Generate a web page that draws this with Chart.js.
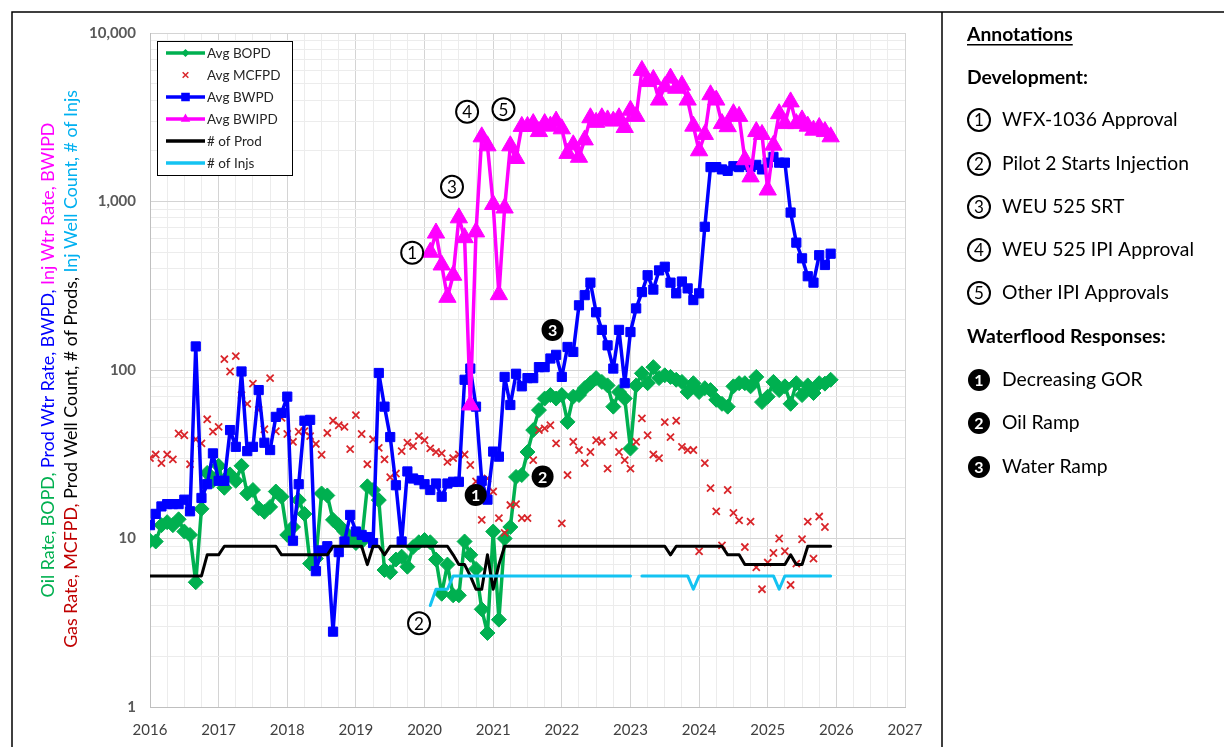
<!DOCTYPE html>
<html>
<head>
<meta charset="utf-8">
<script src="https://cdn.jsdelivr.net/npm/chart.js@4.4.1/dist/chart.umd.min.js"></script>
<style>
html, body { margin: 0; padding: 0; background: #fff; }
#wrap { width: 1224px; height: 747px; position: relative; }
</style>
</head>
<body>
<div id="wrap"><canvas id="myChart" width="1224" height="747"></canvas></div>
<script>
// monthly values, Jan 2016 .. Dec 2025
const bopd = [
  9.7, 9.6, 12, 12.5, 12, 13, 11, 10.5, 5.5, 15,
  24.5, 22, 27, 20, 24, 22, 27, 18.5, 19.4, 15.1,
  14.4, 15.4, 19, 17.7, 10.5, 11.7, 16.9, 14, 7.1, 7.6,
  18.5, 18, 12.9, 12, 11, 10, 9.4, 9.6, 20.4, 19.4,
  16.9, 6.5, 6.3, 7.5, 7.8, 6.8, 8.9, 9.5, 9.8, 9.5,
  7.5, 4.7, 7.0, 4.6, 4.6, 9.6, 8.0, 6.6, 3.8, 2.75,
  11, 3.3, 10, 11.7, 23.2, 23.8, 32.6, 44, 57.8, 67.7,
  71, 67.7, 71, 49.2, 69.5, 71, 78, 83.5, 89.5, 85,
  81, 60.6, 74, 67.7, 34.2, 81, 95.5, 83.5, 104, 89.5,
  93, 91, 87.5, 85, 74, 83.5, 74, 78, 76, 66.5,
  63, 60.6, 80, 83.5, 83.5, 80, 91, 64.5, 69.5, 85,
  76, 80, 63, 83.5, 71, 81, 73, 83.5, 83, 87.5
];
const mcfpd = [
  30, 31.5, 28, 31.5, 29.5, 42, 41, 27.6, 38.8, 36.7,
  51, 43.1, 46, 116, 98, 121, 71, 63, 83, 58,
  44.5, 89.5, 43.3, 52, 41.7, 37.5, 43, 43.3, 40.5, 36.4,
  31.4, 42.3, 50, 47, 46, 33.9, 54, 41.7, 27.6, 38.8,
  34.5, 29.5, 23.1, 24.3, 33, 37, 35.3, 40.5, 38.3, 34.3,
  32.6, 32, 28.5, 30, 31.5, 31.5, 27.3, 21.8, 12.9, 22.7,
  19, 13.2, 10.8, 15.8, 16, 13.2, 13.2, 29.2, 44, 45,
  47, 36.7, 12.3, 23.8, 37.5, 33.5, 28, 32.6, 38.3, 37.5,
  26, 41, 32.6, 29.2, 26, 37.5, 51.6, 41, 31.5, 30,
  49, 40, 50, 35, 33.5, 33.5, 8.4, 28, 19.9, 14.5,
  9.1, 19.4, 14.2, 12.8, 8.9, 12.6, 6.75, 5.0, 7.2, 8.2,
  10, 8.4, 5.3, 7.1, 9.9, 12.6, 7.6, 13.5, 11.7, null
];
const bwpd = [
  12, 14, 15.5, 16, 16, 16, 17, 14.5, 138, 17.4,
  21, 32, 22, 22, 44, 35, 98, 33, 35, 76,
  37, 33.5, 52.7, 55.6, 69.5, 9.7, 21, 50, 50.6, 6.4,
  8.5, 9, 2.8, 8.3, 9.6, 13.8, 11, 10.5, 10.2, 9.4,
  96, 60.6, 40, 20.7, 9.6, 25, 22.7, 22.2, 21, 19.4,
  21.2, 17.7, 21.2, 21.7, 21.7, 87.5, 102, 60.6, 22, 17,
  32.8, 30.6, 91, 62, 95, 80, 89.5, 89.5, 104, 104,
  117, 123, 91, 137, 128, 242, 278, 330, 220, 173,
  140, 102, 173, 83.5, 168, 232, 290, 365, 300, 390,
  410, 330, 285, 335, 305, 260, 285, 708, 1600, 1600,
  1550, 1520, 1620, 1600, 1650, 1600, 1650, 1550, 1700, 1840,
  1700, 1700, 860, 570, 460, 360, 330, 480, 420, 490
];
const bwipd = [
  null, null, null, null, null, null, null, null, null, null,
  null, null, null, null, null, null, null, null, null, null,
  null, null, null, null, null, null, null, null, null, null,
  null, null, null, null, null, null, null, null, null, null,
  null, null, null, null, null, null, null, null, null, 500,
  650, 420, 270, 365, 800, 610, 62, 660, 2420, 2140,
  960, 280, 915, 2140, 1800, 2790, 2790, 2900, 2600, 2900,
  2800, 3000, 2700, 1930, 2170, 1830, 2320, 3140, 2950, 3140,
  3050, 3000, 3140, 2750, 3480, 3200, 6000, 5150, 5300, 4000,
  4800, 5400, 4700, 4900, 4000, 2800, 2000, 2500, 4300, 4000,
  2900, 2780, 3320, 3200, 1770, 1400, 2600, 2500, 1170, 2160,
  3320, 2900, 3900, 2900, 3050, 2800, 2650, 2750, 2600, 2420
];
const prodCount = [
  6, 6, 6, 6, 6, 6, 6, 6, 6, 6,
  8, 8, 8, 9, 9, 9, 9, 9, 9, 9,
  9, 9, 9, 8, 8, 8, 8, 8, 8, 8,
  8, 8, 9, 9, 9, 9, 9, 9, 7, 9,
  9, 8, 9, 9, 9, 9, 9, 9, 9, 9,
  9, 9, 9, 8, 7, 7, 6, 5, 5, 8,
  5, 7, 9, 9, 9, 9, 9, 9, 9, 9,
  9, 9, 9, 9, 9, 9, 9, 9, 9, 9,
  9, 9, 9, 9, 9, 9, 9, 9, 9, 9,
  9, 8, 9, 9, 9, 9, 9, 9, 9, 9,
  9, 8, 8, 8, 7, 7, 7, 7, 7, 7,
  7, 7, 8, 7, 7, 9, 9, 9, 9, 9
];
const injCount = [
  null, null, null, null, null, null, null, null, null, null,
  null, null, null, null, null, null, null, null, null, null,
  null, null, null, null, null, null, null, null, null, null,
  null, null, null, null, null, null, null, null, null, null,
  null, null, null, null, null, null, null, null, null, 4,
  5, 5, 5, 6, 6, 6, 6, 6, 6, 6,
  6, 6, 6, 6, 6, 6, 6, 6, 6, 6,
  6, 6, 6, 6, 6, 6, 6, 6, 6, 6,
  6, 6, 6, 6, 6, null, 6, 6, 6, 6,
  6, 6, 6, 6, 6, 5, 6, 6, 6, 6,
  6, 6, 6, 6, 6, 6, 6, 6, 6, 6,
  5, 6, 6, 6, 6, 6, 6, 6, 6, 6
];

const xYears = [2016, 2017, 2018, 2019, 2020, 2021, 2022, 2023, 2024, 2025, 2026, 2027];
const yTickValues = [1, 10, 100, 1000, 10000];
const yTickLabels = ['1', '10', '100', '1,000', '10,000'];

// circled markers placed on the plot (year, value)
const devMarks = [
  { n: '1', x: 2019.82, y: 497 },
  { n: '2', x: 2019.92, y: 3.14 },
  { n: '3', x: 2020.40, y: 1224 },
  { n: '4', x: 2020.62, y: 3410 },
  { n: '5', x: 2021.15, y: 3525 }
];
const respMarks = [
  { n: '1', x: 2020.745, y: 18.1 },
  { n: '2', x: 2021.72, y: 23.3 },
  { n: '3', x: 2021.865, y: 173 }
];
const devItems = ['WFX-1036 Approval', 'Pilot 2 Starts Injection', 'WEU 525 SRT', 'WEU 525 IPI Approval', 'Other IPI Approvals'];
const respItems = ['Decreasing GOR', 'Oil Ramp', 'Water Ramp'];

const FONT = 'Lato, "Open Sans", sans-serif';
const GREEN = '#00b050', RED = '#d9252a', BLUE = '#0000ff', PINK = '#ff00ff', BLACK = '#000000', CYAN = '#14c3f2';

const pts = arr => arr.map((v, i) => ({ x: 2016 + i / 12, y: v }));

const quarterTicks = [];
for (let q = 2016 * 4; q <= 2027 * 4; q++) quarterTicks.push(q / 4);
const logGrid = [];
for (let e = 0; e < 4; e++) for (let s = 1; s < 10; s++) logGrid.push(s * Math.pow(10, e));
logGrid.push(10000);

function circle(ctx, x, y, r, n, filled, fs) {
  ctx.save();
  ctx.beginPath();
  ctx.arc(x, y, r, 0, Math.PI * 2);
  if (filled) {
    ctx.fillStyle = '#000';
    ctx.fill();
    ctx.fillStyle = '#fff';
    ctx.font = `bold ${fs}px ${FONT}`;
  } else {
    ctx.fillStyle = '#fff';
    ctx.fill();
    ctx.lineWidth = 2;
    ctx.strokeStyle = '#000';
    ctx.stroke();
    ctx.fillStyle = '#000';
    ctx.font = `${fs}px ${FONT}`;
  }
  ctx.textAlign = 'center';
  ctx.textBaseline = 'middle';
  ctx.fillText(n, x, y + 1);
  ctx.restore();
}

const legendItems = [
  { text: 'Avg BOPD', color: GREEN, line: true, style: 'rectRot', r: 3 },
  { text: 'Avg MCFPD', color: RED, line: false, style: 'crossRot', r: 4 },
  { text: 'Avg BWPD', color: BLUE, line: true, style: 'rect', r: 5 },
  { text: 'Avg BWIPD', color: PINK, line: true, style: 'triangle', r: 4 },
  { text: '# of Prod', color: BLACK, line: true, style: null },
  { text: '# of Injs', color: CYAN, line: true, style: null }
];

const titleLine1 = [['Oil Rate, BOPD, ', '#00b050'], ['Prod Wtr Rate, BWPD, ', '#0000ff'], ['Inj Wtr Rate, BWIPD', '#ff00ff']];
const titleLine2 = [['Gas Rate, MCFPD, ', '#c00000'], ['Prod Well Count, # of Prods, ', '#000000'], ['Inj Well Count, # of Injs', '#00b0f0']];

const deco = {
  id: 'deco',
  beforeDraw(chart) {
    const ctx = chart.ctx;
    ctx.save();
    ctx.fillStyle = '#fff';
    ctx.fillRect(0, 0, chart.width, chart.height);
    ctx.restore();
  },
  afterDatasetsDraw(chart) {
    const ctx = chart.ctx;
    const sx = chart.scales.x, sy = chart.scales.y;
    devMarks.forEach(m => circle(ctx, sx.getPixelForValue(m.x), sy.getPixelForValue(m.y), 11, m.n, false, 17));
    respMarks.forEach(m => circle(ctx, sx.getPixelForValue(m.x), sy.getPixelForValue(m.y), 11, m.n, true, 16));
  },
  afterDraw(chart) {
    const ctx = chart.ctx;
    ctx.save();

    // frame
    ctx.strokeStyle = '#000';
    ctx.lineWidth = 1.5;
    ctx.beginPath();
    ctx.moveTo(12, 747); ctx.lineTo(12, 12); ctx.lineTo(1224, 12);
    ctx.moveTo(942, 12); ctx.lineTo(942, 747);
    ctx.stroke();

    // legend box
    const lx = 157, ly = 41, lw = 135, lh = 134;
    ctx.fillStyle = '#fff';
    ctx.fillRect(lx, ly, lw, lh);
    ctx.lineWidth = 1;
    ctx.strokeStyle = '#000';
    ctx.strokeRect(lx + 0.5, ly + 0.5, lw, lh);
    ctx.font = `13.5px ${FONT}`;
    ctx.textBaseline = 'middle';
    ctx.textAlign = 'left';
    legendItems.forEach((it, i) => {
      const y = 53 + i * 22;
      if (it.line) {
        ctx.strokeStyle = it.color;
        ctx.lineWidth = 3.5;
        ctx.beginPath();
        ctx.moveTo(166, y); ctx.lineTo(205, y);
        ctx.stroke();
      }
      if (it.style) {
        ctx.fillStyle = it.color;
        ctx.strokeStyle = it.color;
        ctx.lineWidth = 1.5;
        Chart.helpers.drawPoint(ctx, { pointStyle: it.style, radius: it.r, borderWidth: 1.5, rotation: 0 }, 185.5, y);
      }
      ctx.fillStyle = '#262626';
      ctx.fillText(it.text, 207, y + 1);
    });

    // rotated multi-colour y title
    ctx.font = `16px ${FONT}`;
    const w2 = titleLine2.reduce((s, p) => s + ctx.measureText(p[0]).width, 0);
    const tfs = 16 * 558 / w2;
    ctx.font = `${tfs}px ${FONT}`;
    [[titleLine1, 48, 360], [titleLine2, 71, 369]].forEach(([parts, cx, cy]) => {
      const total = parts.reduce((s, p) => s + ctx.measureText(p[0]).width, 0);
      ctx.save();
      ctx.translate(cx, cy);
      ctx.rotate(-Math.PI / 2);
      ctx.textBaseline = 'middle';
      ctx.textAlign = 'left';
      let x = -total / 2;
      parts.forEach(([t, c]) => {
        ctx.fillStyle = c;
        ctx.fillText(t, x, 0);
        x += ctx.measureText(t).width;
      });
      ctx.restore();
    });

    // annotations panel
    ctx.font = `18px ${FONT}`;
    const pfs = 18 * 187 / ctx.measureText('Pilot 2 Starts Injection').width;
    ctx.fillStyle = '#000';
    ctx.textAlign = 'left';
    ctx.textBaseline = 'middle';
    ctx.font = `bold ${pfs}px ${FONT}`;
    ctx.fillText('Annotations', 967, 35);
    const aw = ctx.measureText('Annotations').width;
    ctx.fillRect(967, 44, aw, 1.5);
    ctx.fillText('Development:', 967, 78);
    ctx.fillText('Waterflood Responses:', 967, 337);
    const devY = [120, 164, 207, 250, 293];
    const respY = [380, 423, 467];
    devItems.forEach((t, i) => {
      circle(ctx, 979, devY[i], 11, String(i + 1), false, 17);
      ctx.font = `${pfs}px ${FONT}`;
      ctx.fillStyle = '#000';
      ctx.textAlign = 'left';
      ctx.textBaseline = 'middle';
      ctx.fillText(t, 1002, devY[i]);
    });
    respItems.forEach((t, i) => {
      circle(ctx, 979, respY[i], 11, String(i + 1), true, 16);
      ctx.font = `${pfs}px ${FONT}`;
      ctx.fillStyle = '#000';
      ctx.textAlign = 'left';
      ctx.textBaseline = 'middle';
      ctx.fillText(t, 1002, respY[i]);
    });
    ctx.restore();
  }
};

Chart.defaults.font.family = FONT;

const ctx = document.getElementById('myChart');
new Chart(ctx, {
  type: 'line',
  data: {
    datasets: [
      { label: 'Avg BOPD', data: pts(bopd), borderColor: GREEN, backgroundColor: GREEN, borderWidth: 3.5,
        pointStyle: 'rectRot', pointRadius: 7.5, pointBorderWidth: 1, order: 6 },
      { label: 'Avg MCFPD', data: pts(mcfpd), showLine: false, borderColor: RED, backgroundColor: RED,
        pointStyle: 'crossRot', pointRadius: 5, pointBorderWidth: 1.8, order: 5 },
      { label: 'Avg BWPD', data: pts(bwpd), borderColor: BLUE, backgroundColor: BLUE, borderWidth: 3.5,
        pointStyle: 'rect', pointRadius: 6.5, pointBorderWidth: 1, order: 4 },
      { label: 'Avg BWIPD', data: pts(bwipd), borderColor: PINK, backgroundColor: PINK, borderWidth: 3.5,
        pointStyle: 'triangle', pointRadius: 10, pointBorderWidth: 1, order: 3 },
      { label: '# of Prod', data: pts(prodCount), borderColor: BLACK, borderWidth: 3, pointRadius: 0, order: 2 },
      { label: '# of Injs', data: pts(injCount), borderColor: CYAN, borderWidth: 3, pointRadius: 0, order: 1 }
    ]
  },
  options: {
    responsive: false,
    animation: false,
    spanGaps: false,
    elements: { line: { tension: 0, borderJoinStyle: 'round', borderCapStyle: 'round' } },
    layout: { padding: { left: 0, right: 1224 - 905, top: 33, bottom: 0 } },
    plugins: { legend: { display: false }, tooltip: { enabled: false } },
    scales: {
      x: {
        type: 'linear',
        min: 2016,
        max: 2027,
        afterBuildTicks: ax => { ax.ticks = quarterTicks.map(v => ({ value: v })); },
        afterFit: ax => { ax.height = 40; },
        ticks: {
          autoSkip: false, maxRotation: 0, padding: 14, color: '#404040',
          font: { size: 15 },
          callback: v => xYears.includes(v) ? String(v) : ''
        },
        grid: {
          drawTicks: false,
          color: c => (c.tick && Number.isInteger(c.tick.value)) ? '#d4d4d4' : '#ececec'
        },
        border: { color: '#bfbfbf', width: 1 }
      },
      y: {
        type: 'logarithmic',
        min: 1,
        max: 10000,
        afterBuildTicks: ax => { ax.ticks = logGrid.map(v => ({ value: v })); },
        afterFit: ax => { ax.width = 150; },
        ticks: {
          autoSkip: false, padding: 14, color: '#595959',
          font: { size: 15, weight: 'bold' },
          callback: v => {
            const k = yTickValues.indexOf(v);
            return k >= 0 ? yTickLabels[k] : '';
          }
        },
        grid: {
          drawTicks: false,
          color: c => (c.tick && yTickValues.includes(c.tick.value)) ? '#d4d4d4' : '#ececec'
        },
        border: { color: '#bfbfbf', width: 1 }
      }
    }
  },
  plugins: [deco]
});
</script>
</body>
</html>
